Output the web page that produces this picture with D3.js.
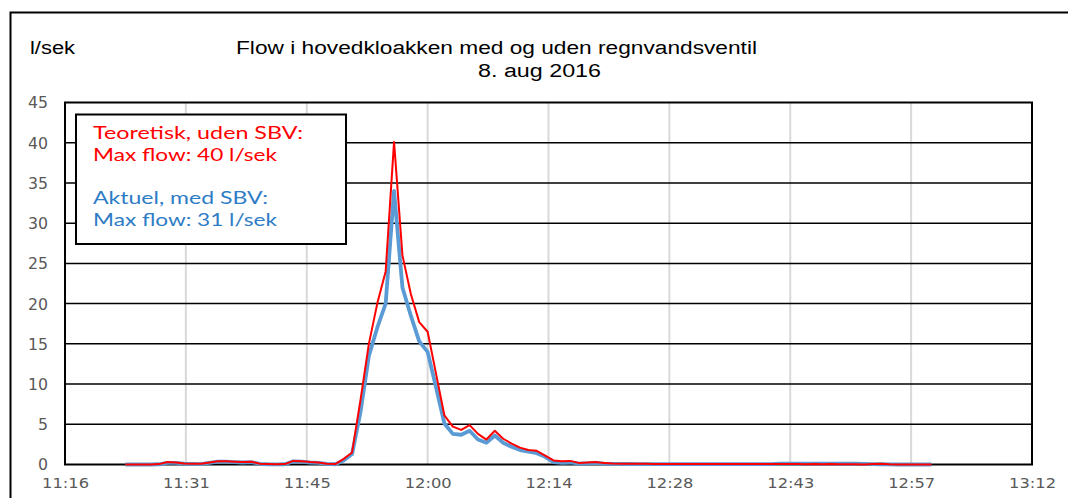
<!DOCTYPE html>
<html>
<head>
<meta charset="utf-8">
<script src="https://cdn.jsdelivr.net/npm/d3@7"></script>
<style>
  body { margin: 0; background: #fff; }
  svg { display: block; }
</style>
</head>
<body>
<div id="chart"></div>
<script>
(function(){
    "use strict";

    // sample times (one per minute)
    var times = ["11:24","11:25","11:26","11:27","11:28","11:29","11:30","11:31","11:32","11:33",
        "11:34","11:35","11:36","11:37","11:38","11:39","11:40","11:41","11:42","11:43",
        "11:44","11:45","11:46","11:47","11:48","11:49","11:50","11:51","11:52","11:53",
        "11:54","11:55","11:56","11:57","11:58","11:59","12:00","12:01","12:02","12:03",
        "12:04","12:05","12:06","12:07","12:08","12:09","12:10","12:11","12:12","12:13",
        "12:14","12:15","12:16","12:17","12:18","12:19","12:20","12:21","12:22","12:23",
        "12:24","12:25","12:26","12:27","12:28","12:29","12:30","12:31","12:32","12:33",
        "12:34","12:35","12:36","12:37","12:38","12:39","12:40","12:41","12:42","12:43",
        "12:44","12:45","12:46","12:47","12:48","12:49","12:50","12:51","12:52","12:53",
        "12:54","12:55","12:56","12:57","12:58","12:59","13:00"];

    // Teoretisk, uden SBV (l/sek)
    var teoretisk = [0,0,0,0,0.05,0.3,0.25,0.12,0.1,0.08,
        0.25,0.4,0.4,0.35,0.3,0.35,0.1,0.05,0.02,0.05,
        0.45,0.4,0.3,0.25,0.1,0.05,0.7,1.5,8,15,
        20,24,40.1,26,21.2,17.7,16.5,11.3,6.1,4.7,
        4.3,4.9,3.8,3.1,4.2,3.2,2.6,2.1,1.8,1.7,
        1.1,0.5,0.4,0.45,0.2,0.25,0.3,0.2,0.12,0.1,
        0.1,0.08,0.08,0.07,0.07,0.06,0.06,0.05,0.05,0.05,
        0.05,0.05,0.05,0.05,0.05,0.05,0.05,0.05,0.05,0.05,
        0.05,0.03,0.05,0.02,0.05,0.03,0.02,0.02,0,0.05,
        0.1,0.02,0,0,0,0,0];

    // Aktuel, med SBV (l/sek)
    var aktuel = [0,0,0,0,0.03,0.2,0.2,0.1,0.08,0.05,
        0.2,0.35,0.35,0.3,0.25,0.3,0.08,0.03,0.02,0.03,
        0.4,0.35,0.25,0.2,0.08,0.03,0.5,1.3,6.5,13.5,
        17,20,34,22,18.5,15.3,14,9.6,5.1,3.8,
        3.7,4.2,3.1,2.7,3.6,2.7,2.2,1.8,1.6,1.4,
        0.95,0.3,0.2,0.25,0.1,0.15,0.2,0.12,0.08,0.06,
        0.06,0.05,0.05,0.05,0.05,0.05,0.05,0.05,0.05,0.05,
        0.05,0.05,0.05,0.05,0.05,0.05,0.05,0.05,0.1,0.1,
        0.1,0.1,0.1,0.1,0.1,0.1,0.1,0.1,0.08,0.05,
        0.03,0.02,0,0,0,0,0];

    // x axis: Excel day fractions 0.47 .. 0.55
    var xTickValues = [0.47,0.48,0.49,0.50,0.51,0.52,0.53,0.54,0.55];
    var xTickLabels = ["11:16","11:31","11:45","12:00","12:14","12:28","12:43","12:57","13:12"];
    var yTickValues = [0,5,10,15,20,25,30,35,40,45];

    var legendLines = [
        {text: "Teoretisk, uden SBV:", color: "#FF0000", w: 210},
        {text: "Max flow: 40 l/sek", color: "#FF0000", w: 184},
        {text: "Aktuel, med SBV:", color: "#2E7CC6", w: 175},
        {text: "Max flow: 31 l/sek", color: "#2E7CC6", w: 184}
    ];

    var W = 1068, H = 498;
    var plot = {left: 65, right: 1032, top: 102.5, bottom: 464.5};

    function toDay(t) {
        var p = t.split(":");
        return (+p[0] * 60 + +p[1]) / 1440;
    }

    var x = d3.scaleLinear().domain([0.47, 0.55]).range([plot.left, plot.right]);
    var y = d3.scaleLinear().domain([0, 45]).range([plot.bottom, plot.top]);

    var svg = d3.select("#chart").append("svg")
        .attr("width", W)
        .attr("height", H);

    // outer frame (top and left edge)
    svg.append("path")
        .attr("d", "M10.5,498 L10.5,12.5 L1068,12.5")
        .attr("fill", "none")
        .attr("stroke", "#000")
        .attr("stroke-width", 2);

    // vertical grid (light gray)
    svg.append("g")
        .selectAll("line")
        .data(xTickValues.slice(1, -1))
        .enter().append("line")
        .attr("x1", function(d) { return x(d); })
        .attr("x2", function(d) { return x(d); })
        .attr("y1", plot.top)
        .attr("y2", plot.bottom)
        .attr("stroke", "#D9D9D9")
        .attr("stroke-width", 2);

    // horizontal grid (black)
    svg.append("g")
        .selectAll("line")
        .data(yTickValues.slice(1, -1))
        .enter().append("line")
        .attr("x1", plot.left)
        .attr("x2", plot.right)
        .attr("y1", function(d) { return y(d); })
        .attr("y2", function(d) { return y(d); })
        .attr("stroke", "#000")
        .attr("stroke-width", 1.5);

    // plot border
    svg.append("rect")
        .attr("x", plot.left)
        .attr("y", plot.top)
        .attr("width", plot.right - plot.left)
        .attr("height", plot.bottom - plot.top)
        .attr("fill", "none")
        .attr("stroke", "#000")
        .attr("stroke-width", 2);

    // y axis labels
    var yAxis = d3.axisLeft(y).tickValues(yTickValues).tickSize(0).tickPadding(17);
    var yg = svg.append("g")
        .attr("transform", "translate(" + plot.left + ",0)")
        .call(yAxis);
    yg.select(".domain").remove();
    yg.selectAll("text")
        .attr("fill", "#595959")
        .style("font-family", "'DejaVu Sans', sans-serif")
        .style("font-size", "15px")
        .attr("dy", "0.36em")
        .attr("textLength", function(d) { return d >= 10 ? 20 : 10; })
        .attr("lengthAdjust", "spacingAndGlyphs");

    // x axis labels
    var xAxis = d3.axisBottom(x).tickValues(xTickValues).tickSize(0).tickPadding(14)
        .tickFormat(function(d, i) { return xTickLabels[i]; });
    var xg = svg.append("g")
        .attr("transform", "translate(0," + plot.bottom + ")")
        .call(xAxis);
    xg.select(".domain").remove();
    xg.selectAll("text")
        .attr("fill", "#595959")
        .style("font-family", "'DejaVu Sans', sans-serif")
        .style("font-size", "14px")
        .attr("textLength", 47)
        .attr("lengthAdjust", "spacingAndGlyphs");

    // lines
    var line = d3.line()
        .x(function(d) { return x(toDay(d.t)); })
        .y(function(d) { return y(d.v); });

    var blueData = times.map(function(t, i) { return {t: t, v: aktuel[i]}; });
    var redData = times.map(function(t, i) { return {t: t, v: teoretisk[i]}; });

    svg.append("path")
        .datum(blueData)
        .attr("fill", "none")
        .attr("stroke", "#5B9BD5")
        .attr("stroke-width", 3.8)
        .attr("stroke-linejoin", "round")
        .attr("d", line);

    svg.append("path")
        .datum(redData)
        .attr("fill", "none")
        .attr("stroke", "#FF0000")
        .attr("stroke-width", 2)
        .attr("stroke-linejoin", "round")
        .attr("d", line);

    // legend box
    svg.append("rect")
        .attr("x", 76)
        .attr("y", 114.5)
        .attr("width", 270)
        .attr("height", 129.5)
        .attr("fill", "#fff")
        .attr("stroke", "#000")
        .attr("stroke-width", 2);

    var legendY = [139, 161, 203.5, 226];
    svg.append("g")
        .selectAll("text")
        .data(legendLines)
        .enter().append("text")
        .attr("x", 93)
        .attr("y", function(d, i) { return legendY[i]; })
        .attr("fill", function(d) { return d.color; })
        .style("font-family", "Lato, 'Open Sans', sans-serif")
        .style("font-size", "17.5px")
        .attr("textLength", function(d) { return d.w; })
        .attr("lengthAdjust", "spacingAndGlyphs")
        .text(function(d) { return d.text; });

    // titles
    svg.append("text")
        .attr("x", 30)
        .attr("y", 54)
        .style("font-family", "'Liberation Sans', Arial, sans-serif")
        .style("font-size", "18px")
        .attr("textLength", 45)
        .attr("lengthAdjust", "spacingAndGlyphs")
        .text("l/sek");

    svg.append("text")
        .attr("x", 236)
        .attr("y", 54)
        .style("font-family", "'Liberation Sans', Arial, sans-serif")
        .style("font-size", "18px")
        .attr("textLength", 521)
        .attr("lengthAdjust", "spacingAndGlyphs")
        .text("Flow i hovedkloakken med og uden regnvandsventil");

    svg.append("text")
        .attr("x", 478)
        .attr("y", 77)
        .style("font-family", "'Liberation Sans', Arial, sans-serif")
        .style("font-size", "18px")
        .attr("textLength", 123)
        .attr("lengthAdjust", "spacingAndGlyphs")
        .text("8. aug 2016");
})();
</script>
</body>
</html>
